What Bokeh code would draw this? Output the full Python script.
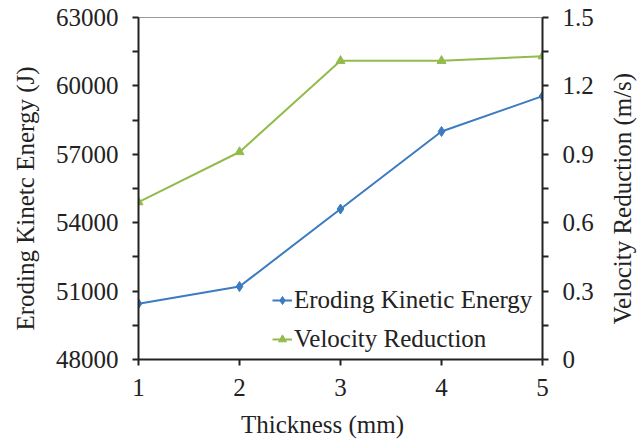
from bokeh.plotting import figure
from bokeh.layouts import row, column
from bokeh.models import (Range1d, LinearAxis, FixedTicker, Legend, LegendItem)
from bokeh.embed import file_html
from bokeh.resources import INLINE
import math

# Data
thickness = [1, 2, 3, 4, 5]
eroding_energy = [50450, 51200, 54600, 58000, 59550]
velocity_reduction = [0.69, 0.91, 1.31, 1.31, 1.33]

energy_ticks = [48000, 51000, 54000, 57000, 60000, 63000]
energy_minor = [49500, 52500, 55500, 58500, 61500]
velocity_ticks = [0, 0.3, 0.6, 0.9, 1.2, 1.5]
velocity_labels = ["0", "0.3", "0.6", "0.9", "1.2", "1.5"]
velocity_minor = [0.15, 0.45, 0.75, 1.05, 1.35]

energy_title = "Eroding Kinetc Energy (J)"
velocity_title = "Velocity Reduction (m/s)"
x_title = "Thickness (mm)"

FONT = "'Times New Roman', 'Liberation Serif', serif"
FS = "25px"
TXT = "#222222"
BLUE = "#3b7bc0"
GREEN = "#93bb4c"

H = 439
STRIP_L, STRIP_R = 45, 41
MAIN_W = 641 - STRIP_L - STRIP_R
X_TITLE_H = 30
MAIN_BORDER_L, MAIN_BORDER_R = 138 - STRIP_L, 58

p = figure(width=MAIN_W, height=H - X_TITLE_H, output_backend="svg",
           toolbar_location=None,
           x_range=Range1d(1, 5), y_range=Range1d(48000, 63000),
           min_border_left=MAIN_BORDER_L, min_border_right=MAIN_BORDER_R,
           min_border_top=17, min_border_bottom=50)
p.extra_y_ranges = {"vel": Range1d(0, 1.5)}
p.xgrid.visible = False
p.ygrid.visible = False
p.outline_line_color = "#9a9a9a"
p.outline_line_width = 1
p.background_fill_color = "white"
p.border_fill_color = "white"


def style_axis(ax):
    ax.axis_line_color = TXT
    ax.axis_line_width = 2
    ax.major_tick_line_color = TXT
    ax.major_tick_line_width = 2
    ax.minor_tick_line_color = TXT
    ax.minor_tick_line_width = 2
    ax.major_tick_in = 0
    ax.major_tick_out = 6
    ax.minor_tick_in = 0
    ax.minor_tick_out = 6
    ax.major_label_text_font = FONT
    ax.major_label_text_font_size = FS
    ax.major_label_text_color = TXT


xa = p.xaxis[0]
xa.ticker = FixedTicker(ticks=thickness)
style_axis(xa)
xa.major_label_standoff = 13

ya = p.yaxis[0]
ya.ticker = FixedTicker(ticks=energy_ticks, minor_ticks=energy_minor)
style_axis(ya)
ya.major_label_standoff = 14

ra = LinearAxis(y_range_name="vel",
                ticker=FixedTicker(ticks=velocity_ticks, minor_ticks=velocity_minor))
ra.major_label_overrides = dict(zip(velocity_ticks, velocity_labels))
style_axis(ra)
ra.major_label_standoff = 14
p.add_layout(ra, "right")

l1 = p.line(thickness, eroding_energy, line_color=BLUE, line_width=2)
m1 = p.scatter(thickness, eroding_energy, marker="diamond", size=10,
               fill_color=BLUE, line_color=BLUE)
l2 = p.line(thickness, velocity_reduction, line_color=GREEN, line_width=2,
            y_range_name="vel")
m2 = p.scatter(thickness, velocity_reduction, marker="triangle", size=9,
               fill_color=GREEN, line_color=GREEN, y_range_name="vel")

legend = Legend(items=[LegendItem(label="Eroding Kinetic Energy", renderers=[l1, m1]),
                       LegendItem(label="Velocity Reduction", renderers=[l2, m2])],
                location=(134, 5))
legend.label_text_font = FONT
legend.label_text_font_size = FS
legend.label_text_color = TXT
legend.border_line_alpha = 0
legend.background_fill_alpha = 0
legend.padding = 0
legend.margin = 0
legend.spacing = 9
legend.glyph_width = 20
legend.glyph_height = 30
legend.label_height = 30
legend.label_standoff = 2
p.add_layout(legend, "center")


# Small text-only panels holding the axis titles; the text sits at the
# centre of each panel's frame, and the borders place that centre.
def title_panel(width, height, borders, text, angle, x_offset=0):
    left, right, top, bottom = borders
    s = figure(width=width, height=height, output_backend="svg",
               toolbar_location=None,
               x_range=Range1d(0, 1), y_range=Range1d(0, 1),
               x_axis_type=None, y_axis_type=None,
               min_border_left=left, min_border_right=right,
               min_border_top=top, min_border_bottom=bottom)
    s.xgrid.visible = False
    s.ygrid.visible = False
    s.outline_line_color = None
    s.background_fill_color = "white"
    s.border_fill_color = "white"
    s.text(x=[0.5], y=[0.5], text=[text], angle=angle, x_offset=x_offset,
           text_font=FONT, text_font_size=FS, text_color=TXT,
           text_align="center", text_baseline="middle")
    return s


left_panel = title_panel(STRIP_L, H, (5, 0, 27, 70), energy_title, math.pi / 2)
right_panel = title_panel(STRIP_R, H, (3, 0, 27, 70), velocity_title, math.pi / 2)
bottom_panel = title_panel(MAIN_W, X_TITLE_H, (MAIN_BORDER_L, MAIN_BORDER_R, 0, 0),
                           x_title, 0, x_offset=-18)

layout = row(left_panel, column(p, bottom_panel, spacing=0), right_panel, spacing=0)

open("out.html", "w").write(file_html(layout, INLINE))
